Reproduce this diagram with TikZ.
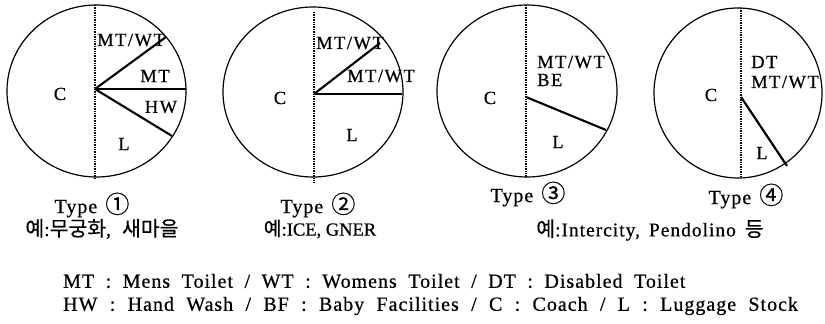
\documentclass[tikz,border=0pt]{standalone}
\usepackage{fontspec}
\setmainfont{Liberation Serif}[FakeBold=0.6]
\newfontfamily\kr[Scale=1.05, FakeBold=0.4]{Noto Sans CJK KR}
\newfontfamily\spaced[LetterSpace=8, FakeBold=0.6]{Liberation Serif}
\newfontfamily\tracked[LetterSpace=5, FakeBold=0.6]{Liberation Serif}
\newcommand{\circdigit}[1]{{\kr\fontsize{23}{23}\selectfont #1}}
\newcommand{\wordgap}[1]{\spaceskip=#1\relax}
\begin{document}
\begin{tikzpicture}[x=1pt,y=-1pt]
\tikzset{
  rim/.style={line width=1.2pt},
  cut/.style={line width=2.1pt},
  axis/.style={line width=1.4pt, dash pattern=on 1.3pt off 1.1pt},
  lbl/.style={font=\fontsize{18.5}{18.5}\selectfont\spaced, inner sep=0pt},
  typecap/.style={font=\fontsize{20}{20}\selectfont\tracked, inner sep=0pt},
  example/.style={font=\fontsize{19.5}{19.5}\selectfont\tracked, inner sep=0pt},
  key/.style={font=\fontsize{20}{20}\selectfont\tracked, inner sep=0pt, anchor=west},
}
\useasboundingbox (0,0) rectangle (825,324);

% ---- Type 1 ----
\coordinate (h1) at (95,89);
\draw[rim] (96.5,91) ellipse [x radius=89.5, y radius=86];
\draw[axis] (95,5) -- (95,180);
\draw[cut] (h1) -- (166,37);
\draw[cut] (h1) -- (186,89);
\draw[cut] (h1) -- (172,136);
\node[lbl] (c1) at (60,94) {C};
\node[lbl] (mw1) at (131,40) {MT/WT};
\node[lbl] (mt1) at (155,76) {MT};
\node[lbl] (hw1) at (161,107) {HW};
\node[lbl] (l1) at (124,144) {L};
\node[typecap] (t1) at (92,205) {\wordgap{8pt}Type \circdigit{①}};
\node[example] (x1) at (102,229) {\wordgap{11pt}{\kr 예}:{\kr 무궁화}, {\kr 새마을}};

% ---- Type 2 ----
\coordinate (h2) at (314,94);
\draw[rim] (313,92) ellipse [x radius=90, y radius=85];
\draw[axis] (314,12) -- (314,183);
\draw[cut] (h2) -- (380,43);
\draw[cut] (h2) -- (402,94);
\node[lbl] (c2) at (280,98) {C};
\node[lbl, anchor=west] (mw2a) at (316,43) {MT/WT};
\node[lbl] (mw2b) at (381,76) {MT/WT};
\node[lbl] (l2) at (352,135) {L};
\node[typecap] (t2) at (318,205) {\wordgap{8pt}Type \circdigit{②}};
\node[inner sep=0pt, font=\fontsize{18.5}{18.5}\selectfont] (x2) at (320,229) {{\kr 예}:ICE, GNER};

% ---- Type 3 ----
\coordinate (h3) at (526,97);
\draw[rim] (527,91) ellipse [x radius=90, y radius=86];
\draw[axis] (526,5) -- (526,177);
\draw[cut] (h3) -- (606,130);
\node[lbl] (c3) at (490,98) {C};
\node[lbl, anchor=west] (mw3) at (537,62) {MT/WT};
\node[lbl, anchor=west] (be3) at (537,80) {BE};
\node[lbl] (l3) at (558,142) {L};
\node[typecap] (t3) at (528,194) {\wordgap{8pt}Type \circdigit{③}};

% ---- Type 4 ----
\coordinate (h4) at (741,97);
\draw[rim] (738,93) ellipse [x radius=84, y radius=85];
\draw[axis] (741,8) -- (741,178);
\draw[cut] (h4) -- (787,166);
\node[lbl] (c4) at (711,95) {C};
\node[lbl, anchor=west] (dt4) at (751,62) {DT};
\node[lbl, anchor=west] (mw4) at (751,82) {MT/WT};
\node[lbl] (l4) at (762,153) {L};
\node[typecap] (t4) at (746,196) {\wordgap{8pt}Type \circdigit{④}};

\node[example] (x34) at (650,230) {\wordgap{9pt}{\kr 예}:Intercity, Pendolino {\kr 등}};

% ---- legend ----
\node[key] (k1) at (63,281) {\wordgap{11.5pt}MT : Mens Toilet / WT : Womens Toilet / DT : Disabled Toilet};
\node[key] (k2) at (63,306) {\wordgap{12.3pt}HW : Hand Wash / BF : Baby Facilities / C : Coach / L : Luggage Stock};
\end{tikzpicture}
\end{document}
